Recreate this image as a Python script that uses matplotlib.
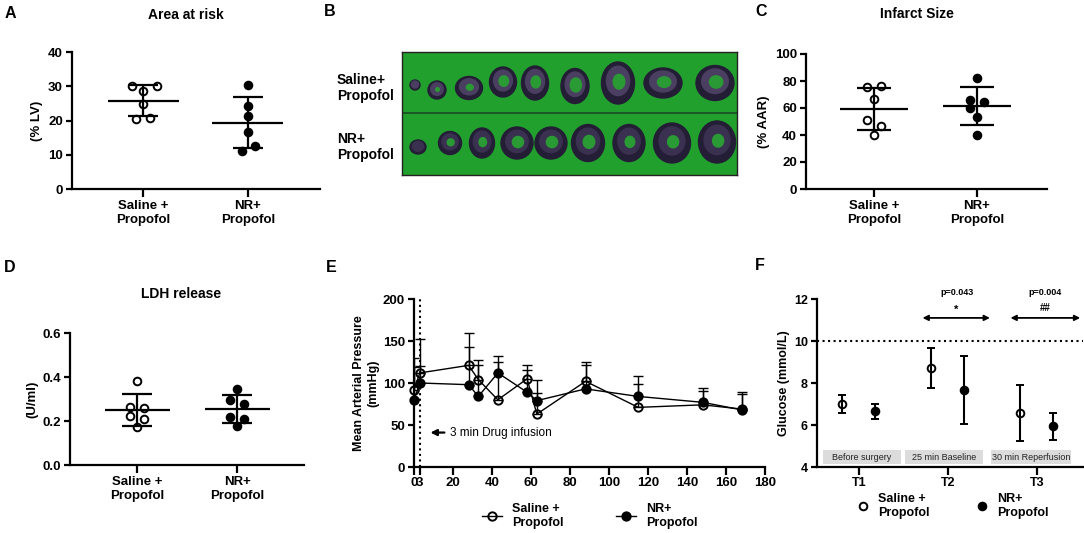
import numpy as np
import matplotlib
matplotlib.use('Agg')
import matplotlib.pyplot as plt
from matplotlib.patches import Ellipse, Rectangle
from matplotlib.lines import Line2D

plt.rcParams['font.family'] = ['Liberation Sans', 'DejaVu Sans']
plt.rcParams['font.weight'] = 'bold'
plt.rcParams['axes.labelweight'] = 'bold'
plt.rcParams['axes.linewidth'] = 1.6

W, H = 1084, 533

# --- data ---
groups = ['Saline +\nPropofol', 'NR+\nPropofol']

aar_sal = [30.0, 30.2, 28.6, 24.8, 20.5, 20.8]
aar_nr = [30.5, 24.2, 21.3, 16.6, 11.0, 12.7]
aar_sal_dx = [-0.105, 0.13, 0.0, 0.0, -0.067, 0.067]
aar_nr_dx = [0.0, 0.0, 0.0, 0.0, -0.06, 0.07]

inf_sal = [75.5, 76.5, 66.5, 51.0, 46.7, 40.0]
inf_nr = [82.5, 66.0, 64.8, 60.2, 53.6, 40.0]
inf_sal_dx = [-0.07, 0.07, 0.0, -0.07, 0.07, 0.0]
inf_nr_dx = [0.0, -0.07, 0.07, -0.07, 0.0, 0.0]

ldh_sal = [0.382, 0.264, 0.259, 0.222, 0.209, 0.173]
ldh_nr = [0.345, 0.295, 0.277, 0.218, 0.209, 0.177]
ldh_sal_dx = [0.0, -0.067, 0.067, -0.067, 0.067, 0.0]
ldh_nr_dx = [0.0, -0.073, 0.073, -0.073, 0.073, 0.0]

map_t = [0, 3, 28, 33, 43, 58, 63, 88, 115, 148, 168]
map_sal = [92, 112, 121, 104, 80, 105, 63, 102, 71, 74, 69]
map_sal_sd = [38, 40, 39, 23, 45, 17, 25, 23, 28, 20, 20]
map_nr = [80, 100, 98, 84, 112, 89, 79, 93, 84, 77, 68]
map_nr_sd = [39, 20, 45, 38, 20, 27, 25, 28, 24, 14, 19]
map_ticks = [0, 3, 20, 40, 60, 80, 100, 120, 140, 160, 180]

glu_labels = ['T1', 'T2', 'T3']
glu_sal = [7.0, 8.71, 6.57]
glu_sal_sd = [0.43, 0.96, 1.33]
glu_nr = [6.65, 7.67, 5.93]
glu_nr_sd = [0.35, 1.62, 0.64]
glu_phase = ['Before surgery', '25 min Baseline', '30 min Reperfusion']
glu_phase_span = [(0.60, 1.47), (1.52, 2.40), (2.49, 3.39)]

# heart slices photo (B), pixel units inside the photo
sl1_x = [13, 35, 67, 101, 133, 173, 216, 261, 313]
sl1_y = [33, 38, 36, 30, 31, 34, 31, 31, 31]
sl1_w = [10, 18, 27, 27, 27, 28, 33, 38, 38]
sl1_h = [10, 18, 23, 30, 34, 35, 42, 30, 35]
sl1_hole = [0, 0.2, 0.25, 0.35, 0.35, 0.4, 0.35, 0.35, 0.35]
sl2_x = [16, 48, 80, 115, 149, 186, 227, 270, 315]
sl2_y = [95, 91, 91, 91, 91, 91, 91, 91, 90]
sl2_w = [16, 23, 25, 32, 32, 33, 32, 37, 37]
sl2_h = [14, 23, 30, 32, 32, 37, 37, 40, 42]
sl2_hole = [0, 0.3, 0.3, 0.35, 0.35, 0.35, 0.3, 0.3, 0.3]


def rect(l, t, r, b):
    return [l / W, 1 - b / H, (r - l) / W, (b - t) / H]


def ftext(x, y, s, **kw):
    fig.text(x / W, 1 - y / H, s, ha='center', va='center', **kw)


def style(ax):
    for s in ['top', 'right']:
        ax.spines[s].set_visible(False)
    ax.tick_params(width=1.6, length=4.5, labelsize=9.5, pad=2)


def dot_panel(ax, sal, nr, dxs, dxn, half, cap):
    for pos, vals, dx, fc in [(1, sal, dxs, 'none'), (2, nr, dxn, 'black')]:
        vals = np.array(vals)
        m = vals.mean()
        s = vals.std(ddof=1)
        ax.hlines(m, pos - half, pos + half, color='black', lw=1.6, zorder=2)
        ax.errorbar(pos, m, yerr=s, fmt='none', ecolor='black', elinewidth=1.6,
                    capsize=cap, capthick=1.6, zorder=2)
        ax.plot(pos + np.array(dx), vals, 'o', ms=5.5, mfc=fc, mec='black',
                mew=1.4, zorder=3, clip_on=False)
    ax.set_xticks([1, 2])
    ax.set_xticklabels(groups, fontsize=9.5)
    ax.tick_params(axis='x', length=5.5, pad=2.5)


fig = plt.figure(figsize=(W / 100, H / 100), dpi=100)

# A
axA = fig.add_axes(rect(72, 52, 320, 189))
style(axA)
dot_panel(axA, aar_sal, aar_nr, aar_sal_dx, aar_nr_dx, 0.34, 10.8)
axA.set_xlim(0.32, 2.69)
axA.set_ylim(0, 40)
axA.set_yticks([0, 10, 20, 30, 40])
axA.set_ylabel('(% LV)', fontsize=9.5)
axA.yaxis.set_label_coords(-0.117, 0.5)

# C
axC = fig.add_axes(rect(806, 54, 1047, 189))
style(axC)
dot_panel(axC, inf_sal, inf_nr, inf_sal_dx, inf_nr_dx, 0.33, 12.5)
axC.set_xlim(0.34, 2.68)
axC.set_ylim(0, 100)
axC.set_yticks([0, 20, 40, 60, 80, 100])
axC.set_ylabel('(% AAR)', fontsize=9.5)
axC.yaxis.set_label_coords(-0.149, 0.5)

# D
axD = fig.add_axes(rect(70, 333, 304, 465))
style(axD)
dot_panel(axD, ldh_sal, ldh_nr, ldh_sal_dx, ldh_nr_dx, 0.325, 11)
axD.set_xlim(0.33, 2.67)
axD.set_ylim(0, 0.6)
axD.set_yticks([0, 0.2, 0.4, 0.6])
axD.set_yticklabels(['0.0', '0.2', '0.4', '0.6'])
axD.set_ylabel('(U/ml)', fontsize=9.5)
axD.yaxis.set_label_coords(-0.137, 0.5)

# B photo
axB = fig.add_axes(rect(402, 52, 737, 175))
axB.set_xlim(0, 335)
axB.set_ylim(123, 0)
axB.set_facecolor('#22a02e')
axB.set_xticks([])
axB.set_yticks([])
for s in axB.spines.values():
    s.set_linewidth(1.0)
    s.set_color('#222222')
axB.axhline(61, color='#1b4a22', lw=1.2)
rows = [(sl1_x, sl1_y, sl1_w, sl1_h, sl1_hole, '#4a3f60'),
        (sl2_x, sl2_y, sl2_w, sl2_h, sl2_hole, '#3a3150')]
for xs, ys, ws, hs, holes, inner in rows:
    for x, y, w, h, hf in zip(xs, ys, ws, hs, holes):
        axB.add_patch(Ellipse((x, y), w, h, color='#231d35', zorder=2))
        axB.add_patch(Ellipse((x, y - h * 0.05), w * 0.7, h * 0.7, color=inner, zorder=3))
        if hf > 0:
            axB.add_patch(Ellipse((x + w * 0.03, y - h * 0.03), w * hf, h * hf,
                                  color='#2a9a34', zorder=4))
fig.text(337 / W, 1 - 88 / H, 'Saline+\nPropofol', ha='left', va='center', fontsize=10)
fig.text(337 / W, 1 - 147 / H, 'NR+\nPropofol', ha='left', va='center', fontsize=10)

# E
axE = fig.add_axes(rect(414, 299, 765, 467))
style(axE)
t = np.array(map_t)
zero = np.zeros(len(t))
axE.errorbar(t, map_sal, yerr=[zero, map_sal_sd], fmt='none', ecolor='black',
             elinewidth=1.0, capsize=3.5, capthick=1.0, zorder=2)
axE.errorbar(t, map_nr, yerr=[zero, map_nr_sd], fmt='none', ecolor='black',
             elinewidth=1.0, capsize=3.5, capthick=1.0, zorder=2)
axE.plot(t, map_sal, '-o', color='black', lw=1.0, ms=6, mfc='none', mew=1.4,
         label='Saline +\nPropofol', zorder=3, clip_on=False)
axE.plot(t, map_nr, '-o', color='black', lw=1.0, ms=6, mfc='black', mew=1.4,
         label='NR+\nPropofol', zorder=3, clip_on=False)
axE.axvline(3, color='black', ls=':', lw=1.5)
axE.annotate('', xy=(7, 41), xytext=(17, 41),
             arrowprops=dict(arrowstyle='-|>', lw=1.6, color='black', mutation_scale=9))
axE.text(18.5, 41, '3 min Drug infusion', fontsize=8.5, fontweight='normal', va='center')
axE.set_xlim(0, 180)
axE.set_ylim(0, 200)
axE.set_xticks(map_ticks)
axE.set_xticklabels([str(v) for v in map_ticks])
axE.set_yticks([0, 50, 100, 150, 200])
axE.tick_params(axis='x', length=5.5)
axE.set_ylabel('Mean Arterial Pressure\n(mmHg)', fontsize=9)
axE.yaxis.set_label_coords(-0.10, 0.5)
axE.legend(loc='upper center', bbox_to_anchor=(0.5, -0.148), ncol=2, frameon=False,
           fontsize=9, handlelength=1.6, columnspacing=4.2, handletextpad=0.8)

# F
axF = fig.add_axes(rect(817, 299, 1083, 467))
style(axF)
pos = np.arange(1, 4)
axF.errorbar(pos - 0.185, glu_sal, yerr=glu_sal_sd, fmt='o', color='black', ms=5.5,
             mfc='none', mew=1.4, elinewidth=1.5, capsize=3, capthick=1.5, zorder=3)
axF.errorbar(pos + 0.18, glu_nr, yerr=glu_nr_sd, fmt='o', color='black', ms=5.5,
             mfc='black', mew=1.4, elinewidth=1.5, capsize=3, capthick=1.5, zorder=3)
for (x0, x1), lab in zip(glu_phase_span, glu_phase):
    axF.add_patch(Rectangle((x0, 4.15), x1 - x0, 0.65, color='#dcdcdc', lw=0, zorder=1))
    axF.text((x0 + x1) / 2, 4.47, lab, fontsize=6.5, fontweight='normal',
             ha='center', va='center', color='#222222', zorder=2)
axF.axhline(10, color='black', ls=':', lw=1.5)
axF.annotate('', xy=(1.685, 11.1), xytext=(2.505, 11.1),
             arrowprops=dict(arrowstyle='<|-|>', lw=1.3, color='black', mutation_scale=8))
axF.annotate('', xy=(2.674, 11.1), xytext=(3.52, 11.1), annotation_clip=False,
             arrowprops=dict(arrowstyle='<|-|>', lw=1.3, color='black', mutation_scale=8))
axF.text(2.1, 11.5, '*', fontsize=8, ha='center', va='center')
axF.text(2.1, 12.3, 'p=0.043', fontsize=6.5, ha='center', va='center')
axF.text(3.09, 11.55, '##', fontsize=7, ha='center', va='center')
axF.text(3.09, 12.3, 'p=0.004', fontsize=6.5, ha='center', va='center')
axF.set_xlim(0.53, 3.52)
axF.set_ylim(4, 12)
axF.set_yticks([4, 6, 8, 10, 12])
axF.set_xticks(pos)
axF.set_xticklabels(glu_labels)
axF.tick_params(axis='x', length=5.5, labelsize=9)
axF.tick_params(axis='y', labelsize=9)
axF.set_ylabel('Glucose (mmol/L)', fontsize=9)
axF.yaxis.set_label_coords(-0.10, 0.5)
f_handles = [Line2D([], [], ls='none', marker='o', ms=5.5, mfc='none', mec='black', mew=1.4),
             Line2D([], [], ls='none', marker='o', ms=5.5, mfc='black', mec='black', mew=1.4)]
axF.legend(f_handles, groups, loc='upper center', bbox_to_anchor=(0.51, -0.09), ncol=2,
           frameon=False, fontsize=9, handlelength=1.0, columnspacing=3.7,
           handletextpad=0.7)

# titles and panel letters
ftext(186, 15, 'Area at risk', fontsize=10)
ftext(917, 14, 'Infarct Size', fontsize=10)
ftext(181, 294, 'LDH release', fontsize=10)
for x, y, s in [(10, 13, 'A'), (330, 12, 'B'), (761, 12, 'C'),
                (10, 267, 'D'), (331, 267, 'E'), (760, 266, 'F')]:
    ftext(x, y, s, fontsize=11.5)

fig.savefig('out.png', dpi=100)
